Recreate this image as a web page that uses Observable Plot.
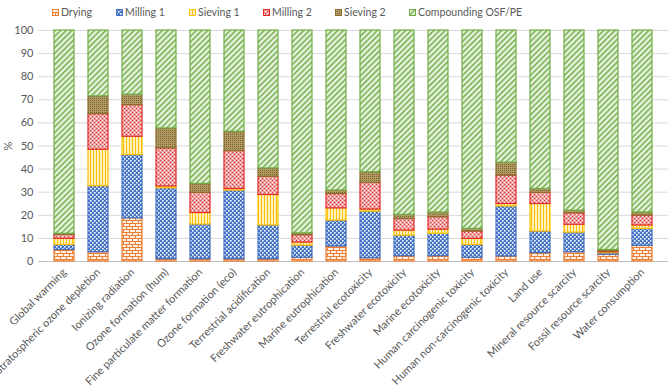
<!DOCTYPE html>
<html><head><meta charset="utf-8">
<script src="https://cdn.jsdelivr.net/npm/d3@7"></script>
<script src="https://cdn.jsdelivr.net/npm/@observablehq/plot@0.6"></script>
<style>
body{margin:0;background:#fff;font-family:Lato,sans-serif;}
#wrap{width:668px;height:387px;position:relative;overflow:hidden;background:#fff}
#legend{position:relative;height:22px;font-size:10.5px;color:#595959}
.item{position:absolute;top:6px;display:flex;align-items:center;gap:2px;white-space:nowrap;line-height:12px}
</style></head><body>
<svg width="0" height="0" style="position:absolute"><defs>
<pattern id="pDry" width="6" height="6" patternUnits="userSpaceOnUse"><rect width="6" height="6" fill="#FDF0E6"/><path d="M0 0.5H6M0 3.5H6M0.5 0V3M3.5 3V6" stroke="#ED7D31" stroke-width="1"/></pattern>
<pattern id="pM1" width="4" height="4" patternUnits="userSpaceOnUse"><rect width="4" height="4" fill="#4472C4"/><rect width="1.6" height="1.6" fill="#fff"/><rect x="2" y="2" width="1.6" height="1.6" fill="#fff"/></pattern>
<pattern id="pS1" width="3" height="3" patternUnits="userSpaceOnUse"><rect width="3" height="3" fill="#FFF0C0"/><rect width="1" height="3" fill="#FFC000"/></pattern>
<pattern id="pM2" width="4" height="4" patternUnits="userSpaceOnUse"><rect width="4" height="4" fill="#EE9A9A"/><rect width="1.2" height="1.2" fill="#fff"/><rect x="2" y="2" width="1.2" height="1.2" fill="#fff"/><rect x="2" y="0" width="1" height="1" fill="#E03C3C"/><rect x="0" y="2" width="1" height="1" fill="#E03C3C"/></pattern>
<pattern id="pS2" width="2" height="2" patternUnits="userSpaceOnUse"><rect width="2" height="2" fill="#B09A66"/><rect width="1" height="1" fill="#7F6228"/></pattern>
<pattern id="pC" width="4" height="4" patternUnits="userSpaceOnUse" patternTransform="rotate(45)"><rect width="4" height="4" fill="#E8F3E0"/><rect width="1.5" height="4" fill="#70AD47"/></pattern>
</defs></svg>
<div id="wrap"><div id="legend"></div><div id="chart"></div></div>
<script>
const categories = ["Global warming","Stratospheric ozone depletion","Ionizing radiation","Ozone formation (hum)","Fine particulate matter formation","Ozone formation (eco)","Terrestrial acidification","Freshwater eutrophication","Marine eutrophication","Terrestrial ecotoxicity","Freshwater ecotoxicity","Marine ecotoxicity","Human carcinogenic toxicity","Human non-carcinogenic toxicity","Land use","Mineral resource scarcity","Fossil resource scarcity","Water consumption"];
const stages = ["Drying","Milling 1","Sieving 1","Milling 2","Sieving 2","Compounding OSF/PE"];
const drying      = [5.0, 4.0, 18.7, 1.0, 1.0, 1.0, 1.0, 1.6, 6.5, 1.4, 2.3, 2.3, 1.6, 2.2, 3.6, 4.0, 2.9, 6.8];
const milling1    = [2.2, 28.6, 27.4, 30.7, 15.0, 29.7, 14.6, 5.3, 11.2, 20.2, 8.9, 9.7, 5.6, 21.6, 9.4, 8.5, 0.7, 7.3];
const sieving1    = [2.6, 15.8, 7.9, 0.8, 5.0, 0.7, 13.2, 1.3, 5.3, 0.9, 2.2, 1.8, 2.6, 1.1, 11.9, 3.4, 0.4, 1.5];
const milling2    = [1.7, 15.4, 13.7, 16.5, 8.7, 16.4, 7.9, 3.2, 6.2, 11.5, 5.0, 5.4, 3.2, 12.3, 4.8, 5.0, 0.3, 4.3];
const sieving2    = [0.5, 7.7, 4.5, 8.6, 3.9, 8.4, 3.6, 0.8, 1.5, 4.6, 1.8, 2.0, 1.1, 5.6, 1.7, 1.1, 0.7, 1.3];
const compounding = [88.0, 28.5, 27.8, 42.4, 66.4, 43.8, 59.7, 87.8, 69.3, 61.4, 79.8, 78.8, 85.9, 57.2, 68.6, 78.0, 95.0, 78.8];
const yTicks = [0,10,20,30,40,50,60,70,80,90,100];

const series = [drying, milling1, sieving1, milling2, sieving2, compounding];
const fills = ["url(#pDry)","url(#pM1)","url(#pS1)","url(#pM2)","url(#pS2)","url(#pC)"];
const strokes = ["#ED7D31","#4472C4","#FFC000","#E02828","#8C6D2C","#70AD47"];
const fillOf = Object.fromEntries(stages.map((s,i)=>[s,fills[i]]));
const strokeOf = Object.fromEntries(stages.map((s,i)=>[s,strokes[i]]));

const data = [];
stages.forEach((s,si)=>categories.forEach((c,ci)=>data.push({category:c, stage:s, value:series[si][ci]})));

// legend (layout positions of the legend entries)
const legendLeft = [52, 116, 189, 263, 335, 409];
const legend = document.getElementById("legend");
stages.forEach((s,i)=>{
  const it = document.createElement("div"); it.className="item";
  it.style.left = legendLeft[i] + "px";
  it.innerHTML = `<svg width="7" height="7"><rect x="0.5" y="0.5" width="6" height="6" fill="${fills[i]}" stroke="${strokes[i]}" stroke-width="1"/></svg><span>${s}</span>`;
  legend.appendChild(it);
});

const chart = Plot.plot({
  width: 668, height: 365,
  marginLeft: 38, marginRight: 0, marginTop: 8, marginBottom: 126,
  x: {domain: categories, padding: 0.4},
  y: {domain: [0,100]},
  color: {type: "identity"},
  style: {fontFamily: "Lato, sans-serif", fontSize: "11px", color: "#595959", background: "#fff", overflow: "visible"},
  marks: [
    Plot.gridY(yTicks, {stroke: "#d9d9d9", strokeOpacity: 1}),
    Plot.axisY(yTicks, {tickSize: 0, tickPadding: 5, label: "%", labelAnchor: "center", labelArrow: "none", labelOffset: 34, fill: "#595959"}),
    Plot.axisX({tickSize: 0, tickPadding: 9, tickRotate: -45, label: null, fill: "#595959"}),
    Plot.ruleY([0], {stroke: "#bfbfbf"}),
    Plot.barY(data, {x: "category", y: "value", z: "stage", fill: d => fillOf[d.stage], stroke: d => strokeOf[d.stage], strokeWidth: 1.2})
  ]
});
document.getElementById("chart").appendChild(chart);
</script>
</body></html>
